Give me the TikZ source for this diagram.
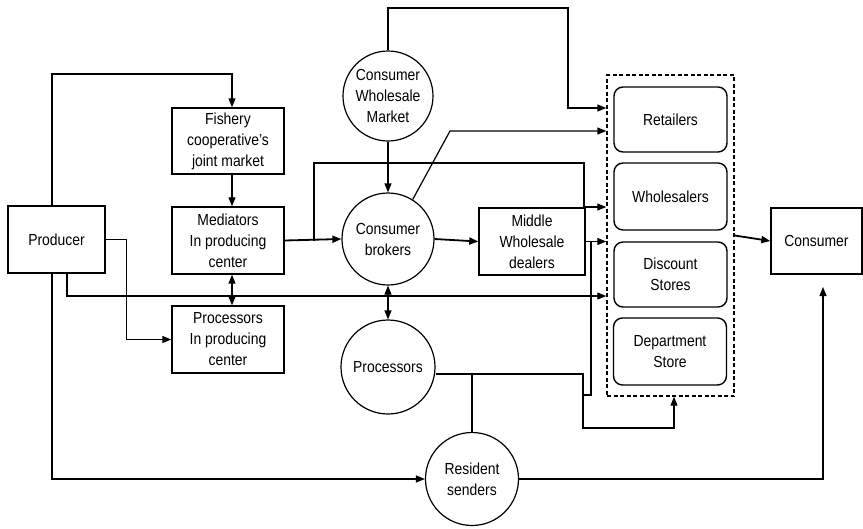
\documentclass[tikz,border=0pt]{standalone}
\usepackage{fontspec}
\setmainfont[FakeStretch=0.87]{Liberation Sans}
\usetikzlibrary{positioning,arrows.meta}

\begin{document}
\begin{tikzpicture}[x=1pt,y=-1pt,font=\fontsize{16}{21}\selectfont,
  >={Triangle[length=9pt,width=7pt]},line width=1.2pt,
  box/.style={draw,line width=1.4pt,align=center,inner sep=0pt},
  outletbox/.style={box,rounded corners=9pt},
  hub/.style={draw,circle,line width=1.2pt,align=center,inner sep=0pt},
  flow/.style={->},
  main/.style={->,line width=1.8pt}]
  \useasboundingbox (0,0) rectangle (863,528);
  % producing side
  \node[box,minimum width=97pt,minimum height=67pt] (prod) at (56.5,239.5) {Producer};
  \node[box,minimum width=112pt,minimum height=66pt] (fish) at (228,141) {Fishery\\cooperative's\\joint market};
  \node[box,minimum width=112pt,minimum height=67pt] (med) at (228,240.5) {Mediators\\In producing\\center};
  \node[box,minimum width=112pt,minimum height=67pt] (procpc) at (228,339.5) {Processors\\In producing\\center};
  % consuming side
  \node[hub,minimum size=90pt] (cwm) at (388,96) {Consumer\\Wholesale\\Market};
  \node[hub,minimum size=92pt] (brok) at (388,239) {Consumer\\brokers};
  \node[hub,minimum size=94pt] (proc) at (388,367) {Processors};
  \node[hub,minimum size=93pt] (res) at (472,479) {Resident\\senders};
  \node[box,minimum width=106pt,minimum height=67pt] (mwd) at (532,241.5) {Middle\\Wholesale\\dealers};
  % retail outlets
  \node[draw,line width=1.4pt,dash pattern=on 4pt off 2.5pt,minimum width=127pt,minimum height=321pt] (outlet) at (670.5,235.5) {};
  \node[outletbox,minimum width=113pt,minimum height=65pt] (ret) at (670.5,119.5) {Retailers};
  \node[outletbox,minimum width=113pt,minimum height=67pt] (whs) at (670.5,196.5) {Wholesalers};
  \node[outletbox,minimum width=113pt,minimum height=65pt] (disc) at (670.5,274.5) {Discount\\Stores};
  \node[outletbox,minimum width=113pt,minimum height=67pt] (dept) at (670,351.5) {Department\\Store};
  \node[box,minimum width=91pt,minimum height=66pt] (cons) at (816.5,241) {Consumer};

  % producer routes
  \coordinate (ptop) at (52,74);
  \coordinate (fx) at (232,74);
  \draw[flow] (prod.north -| ptop) -- (ptop) -- (fx) -- (fx |- fish.north);
  \draw[flow] (fish.south -| fx) -- (fx |- med.north);
  \draw[<->] (med.south -| fx) -- (fx |- procpc.north);
  \draw[flow] (prod.east) -- ++(21,0) |- (procpc.west);
  \coordinate (pbus) at (67,296);
  \draw[flow] (prod.south -| pbus) -- (pbus) -- (pbus -| outlet.west);
  \draw[flow] (prod.south -| ptop) |- (res.west);

  % market and brokers
  \coordinate (topbus) at (568,8);
  \coordinate (in1) at (568,108);
  \draw[flow] (cwm.north) |- (topbus) -- (in1) -- (in1 -| outlet.west);
  \draw[flow] (cwm.south) -- (brok.north);
  \draw[main] (med.east) -- (brok.west);
  \coordinate (tapm) at (314,240.5);
  \coordinate (wbus) at (584,163);
  \coordinate (in3) at (584,207);
  \draw[flow] (tapm) |- (wbus) -- (in3) -- (in3 -| outlet.west);
  \coordinate (rbend) at (450,131);
  \draw[flow] (brok.58) -- (rbend) -- (rbend -| outlet.west);
  \draw[main] (brok.east) -- (mwd.west);
  \draw[flow] (mwd.east) -- (mwd.east -| outlet.west);
  \draw[<->] (brok.south) -- (proc.north);

  % processors and resident senders
  \coordinate (dbus) at (591,241.5);
  \draw (dbus) -- ++(0,153.5) -- ++(-8,0);
  \coordinate (pbend) at (583,374);
  \coordinate (pfoot) at (583,428);
  \coordinate (dfoot) at (674,428);
  \draw[flow] (proc.east |- pbend) -- (pbend) -- (pfoot) -- (dfoot) -- (dfoot |- outlet.south);
  \draw (res.north |- pbend) -- (res.north);
  \coordinate (cin) at (823,287);
  \draw[flow] (res.east) -| (cin);
  \draw[main] (outlet.east) -- (cons.west);
\end{tikzpicture}
\end{document}
